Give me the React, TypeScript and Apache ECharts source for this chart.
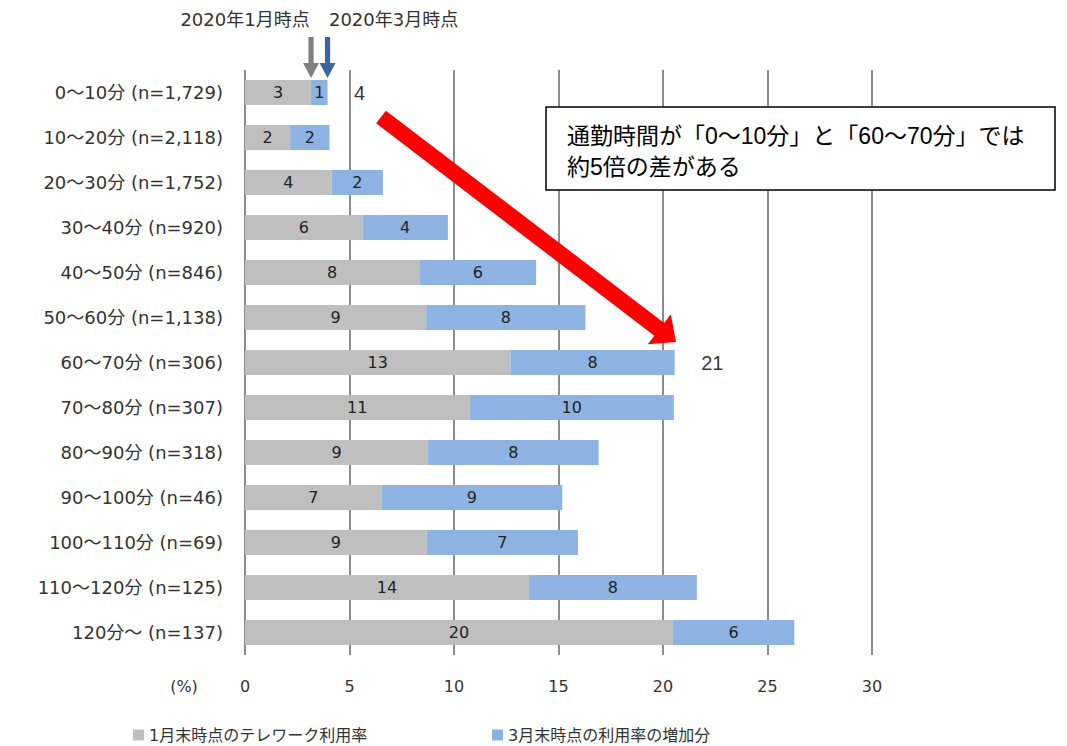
import React, { useEffect, useRef } from "react";
import * as echarts from "echarts";

// Commute time bands (respondent counts in parentheses)
const categories = [
  "0～10分 (n=1,729)",
  "10～20分 (n=2,118)",
  "20～30分 (n=1,752)",
  "30～40分 (n=920)",
  "40～50分 (n=846)",
  "50～60分 (n=1,138)",
  "60～70分 (n=306)",
  "70～80分 (n=307)",
  "80～90分 (n=318)",
  "90～100分 (n=46)",
  "100～110分 (n=69)",
  "110～120分 (n=125)",
  "120分～ (n=137)",
];

// Telework usage rate at end of January (%)
const januaryRate = [3.16, 2.16, 4.15, 5.62, 8.34, 8.67, 12.7, 10.74, 8.76, 6.53, 8.7, 13.58, 20.47];
// Increase by end of March (%)
const marchIncrease = [0.79, 1.88, 2.45, 4.09, 5.59, 7.62, 7.86, 9.78, 8.16, 8.65, 7.23, 8.04, 5.81];

const seriesNames = ["1月末時点のテレワーク利用率", "3月末時点の利用率の増加分"];
const xTicks = { min: 0, max: 30, interval: 5 };
// Rows whose March total is called out beside the bar
const calloutRows = [0, 6];

const headerLabels = ["2020年1月時点", "2020年3月時点"];
const noteLines = ["通勤時間が「0～10分」と「60～70分」では", "約5倍の差がある"];

const GRAY = "#bfbfbf";
const BLUE = "#8db3e2";
const TEXT = "#333333";
const LABEL_FONT = "'DejaVu Sans', 'Noto Sans CJK JP', sans-serif";
const ARIAL_CJK = "'Liberation Sans', Arial, 'Noto Sans CJK JP', sans-serif";

function downArrow(cx: number, top: number, tip: number, color: string) {
  const headH = 15;
  const headHalf = 8;
  const shaftHalf = 2.6;
  return {
    type: "polygon",
    shape: {
      points: [
        [cx - shaftHalf, top],
        [cx + shaftHalf, top],
        [cx + shaftHalf, tip - headH],
        [cx + headHalf, tip - headH],
        [cx, tip],
        [cx - headHalf, tip - headH],
        [cx - shaftHalf, tip - headH],
      ],
    },
    style: { fill: color },
    z: 10,
  };
}

function thickArrow(x1: number, y1: number, x2: number, y2: number) {
  const dx = x2 - x1;
  const dy = y2 - y1;
  const len = Math.sqrt(dx * dx + dy * dy);
  const ux = dx / len;
  const uy = dy / len;
  const nx = -uy;
  const ny = ux;
  const shaftHalf = 8;
  const headHalf = 19;
  const headLen = 21;
  const bx = x2 - ux * headLen;
  const by = y2 - uy * headLen;
  return {
    type: "polygon",
    shape: {
      points: [
        [x1 + nx * shaftHalf, y1 + ny * shaftHalf],
        [bx + nx * shaftHalf, by + ny * shaftHalf],
        [bx + nx * headHalf, by + ny * headHalf],
        [x2, y2],
        [bx - nx * headHalf, by - ny * headHalf],
        [bx - nx * shaftHalf, by - ny * shaftHalf],
        [x1 - nx * shaftHalf, y1 - ny * shaftHalf],
      ],
    },
    style: { fill: "#ff0000" },
    z: 20,
  };
}

export default function App() {
  const ref = useRef<HTMLDivElement>(null);

  useEffect(() => {
    if (!ref.current) return;
    const chart = echarts.init(ref.current, null, { renderer: "svg" });

    const barLabel = {
      show: true,
      position: "inside",
      color: "#222222",
      fontSize: 16,
      fontFamily: LABEL_FONT,
      formatter: (p: any) => String(Math.round(p.value)),
    };

    const legendBase = {
      top: 726,
      padding: 0,
      icon: "rect",
      itemWidth: 11,
      itemHeight: 11,
      textStyle: { color: TEXT, fontSize: 16, lineHeight: 18, fontFamily: LABEL_FONT },
    };

    chart.setOption({
      animation: false,
      backgroundColor: "#ffffff",
      grid: { left: 245, right: 195, top: 70, height: 585, containLabel: false },
      legend: [
        { ...legendBase, left: 133, data: [seriesNames[0]] },
        { ...legendBase, left: 492, data: [seriesNames[1]] },
      ],
      xAxis: {
        type: "value",
        min: xTicks.min,
        max: xTicks.max,
        interval: xTicks.interval,
        axisLine: { show: false },
        axisTick: { show: false },
        axisLabel: { color: TEXT, fontSize: 16, fontFamily: LABEL_FONT, margin: 23 },
        splitLine: { show: true, lineStyle: { color: "#8c8c8c", width: 2 } },
      },
      yAxis: {
        type: "category",
        data: categories,
        inverse: true,
        axisLine: { show: false },
        axisTick: { show: false },
        axisLabel: { color: TEXT, fontSize: 18, fontFamily: LABEL_FONT, margin: 22 },
      },
      series: [
        {
          name: seriesNames[0],
          type: "bar",
          stack: "rate",
          barWidth: 25,
          data: januaryRate,
          itemStyle: { color: GRAY },
          label: barLabel,
        },
        {
          name: seriesNames[1],
          type: "bar",
          stack: "rate",
          barWidth: 25,
          data: marchIncrease,
          itemStyle: { color: BLUE },
          label: barLabel,
        },
        {
          name: "合計",
          type: "scatter",
          symbolSize: 1,
          itemStyle: { color: "transparent" },
          data: calloutRows.map((i) => [januaryRate[i] + marchIncrease[i], i]),
          label: {
            show: true,
            position: "right",
            distance: 26,
            color: "#000000",
            fontSize: 20,
            fontFamily: ARIAL_CJK,
            formatter: (p: any) => String(Math.round(p.value[0])),
          },
          z: 5,
        },
      ],
    });

    // Markers above the first row at the January and March values
    const janX = chart.convertToPixel({ gridIndex: 0 }, [januaryRate[0], 0])[0];
    const marX = chart.convertToPixel({ gridIndex: 0 }, [januaryRate[0] + marchIncrease[0], 0])[0];

    const headerStyle = {
      fill: TEXT,
      fontSize: 18,
      fontFamily: LABEL_FONT,
      align: "center",
      verticalAlign: "middle",
    };

    chart.setOption({
      graphic: [
        { type: "text", x: janX - 66, y: 19, style: { ...headerStyle, text: headerLabels[0] } },
        { type: "text", x: marX + 66, y: 19, style: { ...headerStyle, text: headerLabels[1] } },
        downArrow(janX, 37, 78, "#808080"),
        downArrow(marX, 37, 78, "#3a66a0"),
        {
          type: "text",
          x: 184,
          y: 686,
          style: {
            text: "(%)",
            fill: TEXT,
            fontSize: 16,
            fontFamily: LABEL_FONT,
            align: "center",
            verticalAlign: "middle",
          },
        },
        thickArrow(381, 117, 676, 342),
        {
          type: "rect",
          shape: { x: 546, y: 107, width: 509, height: 83 },
          style: { fill: "#ffffff", stroke: "#000000", lineWidth: 1.5 },
          z: 15,
        },
        {
          type: "text",
          x: 567,
          y: 120,
          style: {
            text: noteLines.join("\n"),
            fill: "#000000",
            fontSize: 23,
            lineHeight: 31,
            fontFamily: ARIAL_CJK,
          },
          z: 16,
        },
      ],
    });

    return () => chart.dispose();
  }, []);

  return (
    <div
      ref={ref}
      style={{ position: "absolute", left: 0, top: 0, width: 1067, height: 746 }}
    />
  );
}
